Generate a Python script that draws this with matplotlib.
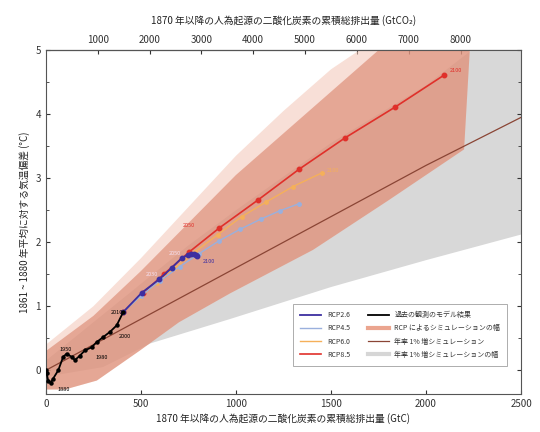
import matplotlib
matplotlib.use("Agg")
import matplotlib.pyplot as plt
from matplotlib.ticker import MultipleLocator, FixedLocator
from matplotlib.lines import Line2D
import numpy as np

plt.rcParams['font.family'] = ['Noto Sans CJK JP', 'DejaVu Sans']

# ---- data (cumulative GtC, temperature anomaly degC) ----
hist_c = [0, 4, 12, 25, 38, 65, 91, 109, 135, 153, 179, 205, 241, 267, 302, 337, 372, 407]
hist_t = [0.0, -0.05, -0.16, -0.2, -0.13, 0.0, 0.21, 0.26, 0.21, 0.16, 0.23, 0.31, 0.36, 0.44, 0.52, 0.6, 0.7, 0.91]

years = [2010, 2020, 2030, 2040, 2050, 2060, 2070, 2080, 2090, 2100]
rcp26_c = [407, 504, 596, 662, 714, 745, 765, 780, 790, 797]
rcp26_t = [0.91, 1.21, 1.42, 1.6, 1.75, 1.8, 1.82, 1.81, 1.8, 1.78]
rcp45_c = [407, 500, 600, 705, 805, 910, 1020, 1130, 1230, 1330]
rcp45_t = [0.91, 1.16, 1.4, 1.62, 1.82, 2.02, 2.2, 2.36, 2.49, 2.6]
rcp60_c = [407, 495, 585, 680, 785, 905, 1030, 1160, 1300, 1450]
rcp60_t = [0.91, 1.14, 1.36, 1.6, 1.85, 2.12, 2.4, 2.63, 2.87, 3.08]
rcp85_c = [407, 510, 620, 755, 911, 1116, 1332, 1574, 1837, 2095]
rcp85_t = [0.91, 1.2, 1.5, 1.85, 2.22, 2.66, 3.14, 3.63, 4.11, 4.61]

onepct_c = [0, 500, 1000, 1500, 2000, 2500]
onepct_t = [0.0, 0.8, 1.6, 2.4, 3.2, 3.95]

grey_up_c = [0, 250, 500, 750, 1000, 1500, 2000, 2240, 2500]
grey_up_t = [0.15, 0.75, 1.35, 1.95, 2.5, 3.55, 4.45, 5.0, 5.0]
grey_lo_c = [0, 300, 550, 968, 1500, 2000, 2500]
grey_lo_t = [-0.1, 0.05, 0.42, 0.8, 1.3, 1.72, 2.12]

rcp_up_c = [0, 250, 500, 750, 1000, 1250, 1500, 1750, 2200]
rcp_up_t = [0.3, 0.85, 1.55, 2.3, 3.05, 3.7, 4.35, 5.0, 5.0]
rcp_lo_c = [0, 100, 268, 495, 700, 968, 1405, 1800, 2200, 2230]
rcp_lo_t = [-0.3, -0.3, -0.16, 0.31, 0.75, 1.2, 1.88, 2.65, 3.45, 5.0]

# faint outer fringe of the RCP range
fringe_up_c = [0, 250, 500, 750, 1000, 1250, 1500, 1650, 2250]
fringe_up_t = [0.4, 1.0, 1.75, 2.55, 3.35, 4.05, 4.7, 5.0, 5.0]

gtc_ticks = [0, 500, 1000, 1500, 2000, 2500]
gtco2_ticks = [1000, 2000, 3000, 4000, 5000, 6000, 7000, 8000]
y_ticks = [0, 1, 2, 3, 4, 5]

fig = plt.figure(figsize=(5.4, 4.32), dpi=100)
ax = fig.add_axes([0.085, 0.088, 0.88, 0.796])

# grey 1%/yr range
ax.fill(grey_up_c + grey_lo_c[::-1], grey_up_t + grey_lo_t[::-1],
        color='#d8d8d8', lw=0, zorder=1)

# faint fringe
ax.fill(fringe_up_c + rcp_lo_c[::-1], fringe_up_t + rcp_lo_t[::-1],
        color='#f3c6b6', alpha=0.55, lw=0, zorder=2)
# RCP range
ax.fill(rcp_up_c + rcp_lo_c[::-1], rcp_up_t + rcp_lo_t[::-1],
        color='#d9826a', alpha=0.6, lw=0, zorder=2)

ax.plot(onepct_c, onepct_t, color='#8a4535', lw=0.9, zorder=3)

ms = 3.2
ax.plot(rcp85_c, rcp85_t, color='#e0302a', lw=1.2, marker='o', ms=ms, zorder=4)
ax.plot(rcp60_c, rcp60_t, color='#f5b05a', lw=1.0, marker='o', ms=2.5, zorder=5)
ax.plot(rcp45_c, rcp45_t, color='#9ab0dd', lw=1.0, marker='o', ms=2.5, zorder=6)
ax.plot(rcp26_c, rcp26_t, color='#3d2fa0', lw=1.3, marker='o', ms=ms, zorder=7)
ax.plot(hist_c, hist_t, color='black', lw=1.3, marker='o', ms=2.2, zorder=8)

fs_lab = 4
ax.text(rcp85_c[-1] + 30, rcp85_t[-1] + 0.05, '2100', color='#e0302a', fontsize=fs_lab, zorder=9)
ax.text(rcp85_c[4] - 190, rcp85_t[4] + 0.02, '2050', color='#e0302a', fontsize=fs_lab, zorder=9)
ax.text(rcp26_c[-1] + 30, rcp26_t[-1] - 0.1, '2100', color='#3d2fa0', fontsize=fs_lab, zorder=9)
ax.text(rcp26_c[2] - 70, rcp26_t[2] + 0.05, '2030', color='#f5e0f0', fontsize=fs_lab, zorder=9)
ax.text(rcp26_c[4] - 70, rcp26_t[4] + 0.05, '2050', color='#f5e0f0', fontsize=fs_lab, zorder=9)
ax.text(rcp60_c[-1] + 30, rcp60_t[-1] + 0.02, '2100', color='#f5b05a', fontsize=fs_lab, zorder=9)
ax.text(340, 0.88, '2010', color='black', fontsize=fs_lab, zorder=9)
ax.text(385, 0.5, '2000', color='black', fontsize=fs_lab, zorder=9)
ax.text(260, 0.18, '1980', color='black', fontsize=fs_lab, zorder=9)
ax.text(70, 0.3, '1950', color='black', fontsize=fs_lab, zorder=9)
ax.text(60, -0.33, '1880', color='black', fontsize=fs_lab, zorder=9)

ax.set_xlim(0, 2500)
ax.set_ylim(-0.37, 5)
ax.xaxis.set_major_locator(FixedLocator(gtc_ticks))
ax.yaxis.set_major_locator(FixedLocator(y_ticks))
ax.yaxis.set_minor_locator(MultipleLocator(0.5))
ax.tick_params(which='both', direction='in', labelsize=7, colors='#333333', top=False, right=True)
ax.tick_params(which='major', length=3)
ax.tick_params(which='minor', length=2)
for s in ax.spines.values():
    s.set_color('#555555')
    s.set_linewidth(0.8)

ax.set_xlabel('1870 年以降の人為起源の二酸化炭素の累積総排出量 (GtC)', fontsize=7, color='#222222', labelpad=3)
ax.set_ylabel('1861 ~ 1880 年平均に対する気温偏差 (°C)', fontsize=7, color='#222222', labelpad=4)

sec = ax.secondary_xaxis('top', functions=(lambda x: x * 3.667, lambda x: x / 3.667))
sec.xaxis.set_major_locator(FixedLocator(gtco2_ticks))
sec.tick_params(direction='in', labelsize=7, colors='#333333', length=3)
sec.set_xlabel('1870 年以降の人為起源の二酸化炭素の累積総排出量 (GtCO₂)', fontsize=7, color='#222222', labelpad=8)

handles = [
    Line2D([], [], color='#3d2fa0', lw=1.3),
    Line2D([], [], color='#9ab0dd', lw=1.0),
    Line2D([], [], color='#f5b05a', lw=1.0),
    Line2D([], [], color='#e0302a', lw=1.2),
    Line2D([], [], color='black', lw=1.3),
    Line2D([], [], color='#eba58f', lw=3),
    Line2D([], [], color='#8a4535', lw=0.9),
    Line2D([], [], color='#d6d6d6', lw=3),
]
labels = ['RCP2.6', 'RCP4.5', 'RCP6.0', 'RCP8.5',
          '過去の観測のモデル結果', 'RCP によるシミュレーションの幅',
          '年率 1% 増シミュレーション', '年率 1% 増シミュレーションの幅']
leg = ax.legend(handles, labels, ncol=2, loc='lower right', fontsize=5,
                frameon=True, fancybox=False, edgecolor='#888888',
                handlelength=3.0, columnspacing=2.6, borderpad=1.0,
                labelspacing=0.75, bbox_to_anchor=(0.978, 0.072))
leg.get_frame().set_linewidth(0.6)
for t in leg.get_texts():
    t.set_color('#333333')

fig.savefig('out.png', dpi=100)
